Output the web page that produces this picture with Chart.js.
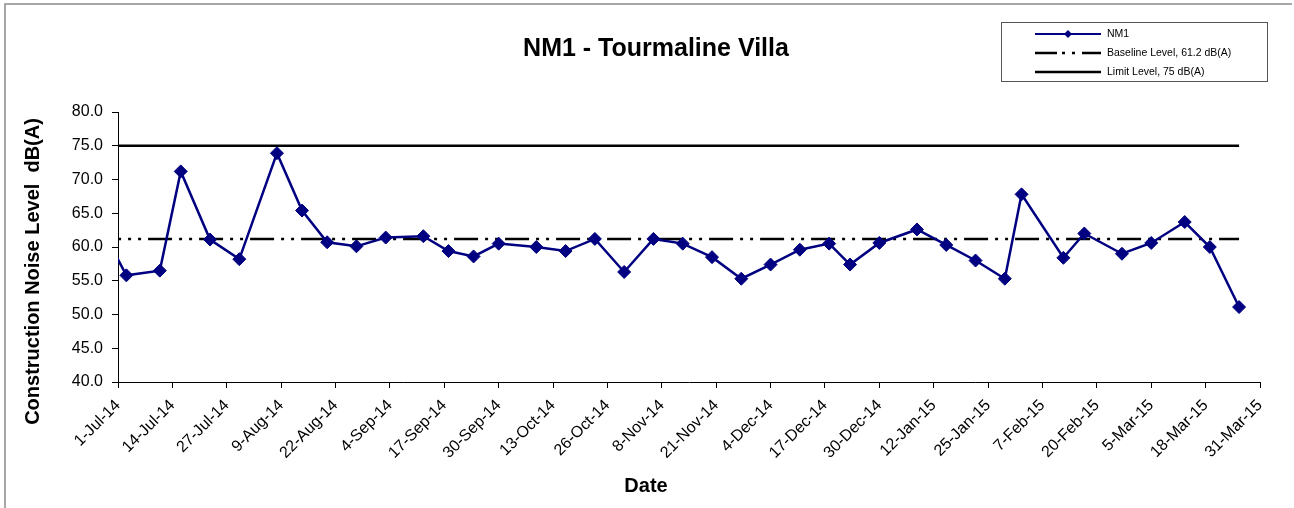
<!DOCTYPE html>
<html>
<head>
<meta charset="utf-8">
<script src="https://cdn.jsdelivr.net/npm/chart.js@4.4.0/dist/chart.umd.min.js"></script>
<style>
  html, body { margin: 0; padding: 0; background: #ffffff; overflow: hidden; }
  #wrap { width: 1294px; height: 508px; position: relative; }
</style>
</head>
<body>
<div id="wrap"><canvas id="c" width="1294" height="508"></canvas></div>
<script>
// ---------------- data ----------------
const chartTitle = 'NM1 - Tourmaline Villa';
const xAxisTitle = 'Date';
const yAxisTitle = 'Construction Noise Level  dB(A)';

const nm1Label = 'NM1';
const measureDates = [
  '2014-06-26', '2014-07-03', '2014-07-11', '2014-07-16', '2014-07-23', '2014-07-30',
  '2014-08-08', '2014-08-14', '2014-08-20', '2014-08-27', '2014-09-03', '2014-09-12',
  '2014-09-18', '2014-09-24', '2014-09-30', '2014-10-09', '2014-10-16', '2014-10-23',
  '2014-10-30', '2014-11-06', '2014-11-13', '2014-11-20', '2014-11-27', '2014-12-04',
  '2014-12-11', '2014-12-18', '2014-12-23', '2014-12-30', '2015-01-08', '2015-01-15',
  '2015-01-22', '2015-01-29', '2015-02-02', '2015-02-12', '2015-02-17', '2015-02-26',
  '2015-03-05', '2015-03-13', '2015-03-19', '2015-03-26'
];
const nm1Levels = [
  64.0, 55.8, 56.5, 71.2, 61.1, 58.2,
  73.9, 65.4, 60.7, 60.1, 61.4, 61.6,
  59.4, 58.6, 60.5, 60.0, 59.4, 61.2,
  56.3, 61.2, 60.5, 58.5, 55.3, 57.4,
  59.6, 60.5, 57.4, 60.6, 62.6, 60.3,
  58.0, 55.3, 67.8, 58.4, 62.0, 59.0,
  60.6, 63.7, 60.0, 51.1
];

const baselineLabel = 'Baseline Level, 61.2 dB(A)';
const baselineValues = [61.2, 61.2];
const limitLabel = 'Limit Level, 75 dB(A)';
const limitValues = [75, 75];
const referenceLineDates = ['2014-06-26', '2015-03-26'];

const axisStartDate = '2014-07-01';
const axisEndDate = '2015-03-31';
const xTickStepDays = 13;
const yMin = 40, yMax = 80, yStep = 5;
const monthNames = ['Jan','Feb','Mar','Apr','May','Jun','Jul','Aug','Sep','Oct','Nov','Dec'];

// ---------------- helpers ----------------
const DAY = 86400000;
function toUTC(s) { const p = s.split('-').map(Number); return Date.UTC(p[0], p[1] - 1, p[2]); }
const origin = toUTC(axisStartDate);
function dayOffset(s) { return Math.round((toUTC(s) - origin) / DAY); }
function dayLabel(v) {
  const d = new Date(origin + Math.round(v) * DAY);
  return d.getUTCDate() + '-' + monthNames[d.getUTCMonth()] + '-' + String(d.getUTCFullYear()).slice(2);
}
const FONT = '"Liberation Sans", Arial, Helvetica, sans-serif';

const nm1Points = measureDates.map((d, i) => ({ x: dayOffset(d), y: nm1Levels[i] }));
const baselinePoints = referenceLineDates.map((d, i) => ({ x: dayOffset(d), y: baselineValues[i] }));
const limitPoints = referenceLineDates.map((d, i) => ({ x: dayOffset(d), y: limitValues[i] }));

// ---------------- decoration plugin (frame, legend, axis titles) ----------------
const decor = {
  id: 'decor',
  beforeDraw(chart) {
    const ctx = chart.ctx;
    ctx.save();
    ctx.strokeStyle = '#8a8a8a';
    ctx.lineWidth = 1.5;
    ctx.beginPath();
    ctx.moveTo(5, 508);
    ctx.lineTo(5, 4);
    ctx.lineTo(1292, 4);
    ctx.stroke();
    ctx.restore();
  },
  afterDraw(chart) {
    const ctx = chart.ctx;
    ctx.save();
    // axis titles
    ctx.fillStyle = '#000';
    ctx.font = 'bold 20px ' + FONT;
    ctx.textAlign = 'center';
    ctx.textBaseline = 'alphabetic';
    ctx.fillText(xAxisTitle, 646, 491.5);
    ctx.save();
    ctx.translate(39, 271.5);
    ctx.rotate(-Math.PI / 2);
    ctx.fillText(yAxisTitle, 0, 0);
    ctx.restore();

    // legend box
    const bx = 1001.5, by = 22.5, bw = 266, bh = 59;
    ctx.strokeStyle = '#555';
    ctx.lineWidth = 1;
    ctx.strokeRect(bx, by, bw, bh);
    const rows = [34, 53, 72];
    ctx.font = '10.5px ' + FONT;
    ctx.textAlign = 'left';
    ctx.textBaseline = 'middle';
    chart.data.datasets.forEach((ds, i) => {
      const y = rows[i];
      ctx.save();
      ctx.strokeStyle = ds.borderColor;
      ctx.lineWidth = i === 0 ? 2 : 2.5;
      ctx.setLineDash(ds.legendDash || []);
      ctx.beginPath();
      ctx.moveTo(1035, y);
      ctx.lineTo(1101, y);
      ctx.stroke();
      ctx.restore();
      if (ds.pointRadius > 0) {
        ctx.save();
        ctx.fillStyle = ds.pointBackgroundColor;
        ctx.beginPath();
        ctx.moveTo(1068, y - 4);
        ctx.lineTo(1072, y);
        ctx.lineTo(1068, y + 4);
        ctx.lineTo(1064, y);
        ctx.closePath();
        ctx.fill();
        ctx.restore();
      }
      ctx.fillStyle = '#000';
      ctx.fillText(ds.label, 1107, y);
    });
    ctx.restore();
  }
};

// ---------------- chart ----------------
new Chart(document.getElementById('c'), {
  type: 'line',
  data: {
    datasets: [
      {
        label: nm1Label,
        data: nm1Points,
        borderColor: '#000080',
        backgroundColor: '#000080',
        borderWidth: 2.5,
        pointStyle: 'rectRot',
        pointRadius: 6.5,
        pointHoverRadius: 6.5,
        pointBackgroundColor: '#000080',
        pointBorderColor: '#000080',
        pointBorderWidth: 1,
        tension: 0,
        fill: false
      },
      {
        label: baselineLabel,
        data: baselinePoints,
        borderColor: '#000000',
        borderWidth: 2.5,
        borderDash: [24, 7, 3, 7, 3, 7],
        legendDash: [22, 5, 3, 7, 3, 7],
        pointRadius: 0,
        tension: 0,
        fill: false
      },
      {
        label: limitLabel,
        data: limitPoints,
        borderColor: '#000000',
        borderWidth: 2.5,
        pointRadius: 0,
        tension: 0,
        fill: false
      }
    ]
  },
  options: {
    responsive: false,
    animation: false,
    devicePixelRatio: 1,
    layout: { padding: { left: 52, right: 34, top: 0, bottom: 0 } },
    plugins: {
      legend: { display: false },
      tooltip: { enabled: false },
      title: {
        display: true,
        text: chartTitle,
        color: '#000',
        font: { family: FONT, size: 25, weight: 'bold', lineHeight: 1.2 },
        padding: { top: 34, bottom: 48 }
      }
    },
    scales: {
      x: {
        type: 'linear',
        min: 0,
        max: dayOffset(axisEndDate),
        afterFit(scale) { scale.height = 126; scale.paddingLeft = 0; scale.paddingRight = 0; },
        grid: { drawOnChartArea: false, drawTicks: true, tickLength: 6, color: '#000', tickWidth: 1 },
        border: { display: true, color: '#000', width: 1 },
        ticks: {
          stepSize: xTickStepDays,
          autoSkip: false,
          maxTicksLimit: 40,
          minRotation: 45,
          maxRotation: 45,
          padding: 8,
          color: '#000',
          font: { family: FONT, size: 16 },
          callback: (v) => dayLabel(v)
        },
        title: { display: false }
      },
      y: {
        type: 'linear',
        min: yMin,
        max: yMax,
        afterFit(scale) { scale.width = 66; },
        grid: { drawOnChartArea: false, drawTicks: true, tickLength: 6, color: '#000', tickWidth: 1 },
        border: { display: true, color: '#000', width: 1 },
        ticks: {
          stepSize: yStep,
          padding: 9,
          color: '#000',
          font: { family: FONT, size: 16 },
          callback: (v) => Number(v).toFixed(1)
        },
        title: { display: false }
      }
    }
  },
  plugins: [decor]
});
</script>
</body>
</html>
